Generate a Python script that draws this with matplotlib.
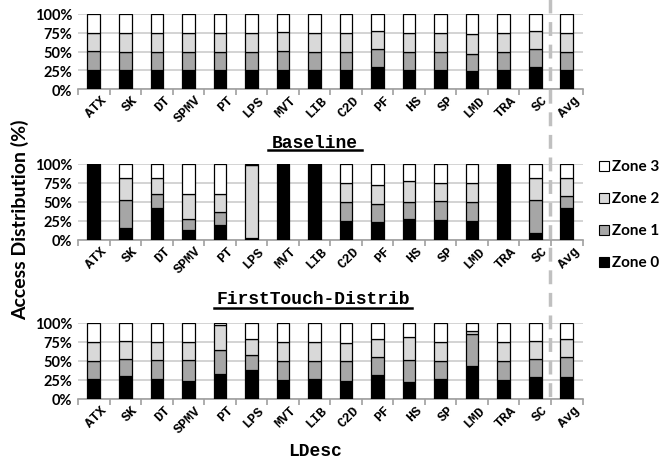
import matplotlib
matplotlib.use("Agg")
import matplotlib.pyplot as plt
from matplotlib.lines import Line2D
from matplotlib.patches import Rectangle

categories = ["ATX", "SK", "DT", "SPMV", "PT", "LPS", "MVT", "LIB", "C2D",
              "PF", "HS", "SP", "LMD", "TRA", "SC", "Avg"]
zones = ["Zone 0", "Zone 1", "Zone 2", "Zone 3"]
panel_titles = ["Baseline", "FirstTouch-Distrib", "LDesc"]

baseline_z0 = [26, 25, 25, 25, 26, 25, 25, 25, 25, 30, 25, 26, 24, 25, 30, 26]
baseline_z1 = [25, 25, 25, 25, 24, 25, 26, 25, 25, 24, 25, 24, 23, 25, 23, 24]
baseline_z2 = [24, 25, 25, 25, 25, 25, 25, 25, 25, 23, 25, 25, 26, 25, 24, 25]
baseline_z3 = [25, 25, 25, 25, 25, 25, 24, 25, 25, 23, 25, 25, 27, 25, 23, 25]

ftd_z0 = [100, 16, 42, 13, 19, 2, 100, 100, 25, 23, 27, 26, 25, 98, 9, 42]
ftd_z1 = [0, 37, 18, 14, 18, 0, 0, 0, 25, 24, 23, 25, 25, 1, 43, 16]
ftd_z2 = [0, 29, 21, 33, 24, 97, 0, 0, 25, 25, 27, 24, 25, 1, 30, 24]
ftd_z3 = [0, 18, 19, 40, 39, 1, 0, 0, 25, 28, 23, 25, 25, 0, 18, 18]

ldesc_z0 = [26, 30, 26, 24, 33, 38, 25, 26, 24, 31, 23, 26, 43, 25, 29, 29]
ldesc_z1 = [24, 23, 25, 27, 31, 20, 25, 24, 26, 24, 28, 24, 43, 25, 24, 26]
ldesc_z2 = [25, 23, 24, 24, 33, 21, 25, 25, 24, 24, 30, 25, 3, 25, 23, 24]
ldesc_z3 = [25, 24, 25, 25, 3, 21, 25, 25, 26, 21, 19, 25, 11, 25, 24, 21]

yticks = [0, 25, 50, 75, 100]
ytick_labels = ["0%", "25%", "50%", "75%", "100%"]

panels = [
    [baseline_z0, baseline_z1, baseline_z2, baseline_z3],
    [ftd_z0, ftd_z1, ftd_z2, ftd_z3],
    [ldesc_z0, ldesc_z1, ldesc_z2, ldesc_z3],
]

colors = ["#000000", "#a6a6a6", "#d9d9d9", "#ffffff"]
W, H = 668, 460
fig = plt.figure(figsize=(W / 100, H / 100), dpi=100)

ysans = ["Lato", "DejaVu Sans"]
mono = ["Liberation Mono", "DejaVu Sans Mono"]

boxes = [(15, 90), (165, 240.7), (324, 400)]
left_px, right_px = 78, 582.5

for (top, bot), data in zip(boxes, panels):
    ax = fig.add_axes([left_px / W, 1 - bot / H, (right_px - left_px) / W, (bot - top) / H])
    x = list(range(len(categories)))
    bottom = [0] * len(categories)
    for zi, vals in enumerate(data):
        ax.bar(x, vals, width=0.4, bottom=bottom, color=colors[zi],
               edgecolor="#000000", linewidth=0.9, zorder=3)
        bottom = [b + v for b, v in zip(bottom, vals)]
    ax.set_xlim(-0.5, len(categories) - 0.5)
    ax.set_ylim(0, 100)
    ax.set_yticks(yticks)
    ax.set_yticklabels(ytick_labels)
    for lab in ax.get_yticklabels():
        lab.set_fontfamily(ysans)
        lab.set_fontweight("bold")
        lab.set_fontsize(10.5)
    ax.yaxis.grid(True, color="#d0d0d0", linewidth=1.3, zorder=0)
    ax.set_axisbelow(True)
    for s in ["top", "right", "left"]:
        ax.spines[s].set_visible(False)
    ax.spines["bottom"].set_color("#a0a0a0")
    ax.spines["bottom"].set_linewidth(1.2)
    ax.tick_params(axis="y", length=0, pad=4)
    ax.set_xticks(x)
    ax.set_xticklabels([])
    ax.set_xticks([i - 0.5 for i in range(len(categories) + 1)], minor=True)
    ax.tick_params(axis="x", which="major", length=0)
    ax.tick_params(axis="x", which="minor", length=4, color="#a0a0a0", width=1.2)
    xt = ax.get_xaxis_transform()
    for i, cat in enumerate(categories):
        ax.text(i + 0.22, -0.06, cat, transform=xt, rotation=45,
                rotation_mode="anchor", ha="right", va="top",
                fontfamily=mono, fontweight="bold", fontsize=9.5, clip_on=False)

title_pos = [(315, 143), (313, 300), (315, 452)]
for (tx, ty), title in zip(title_pos, panel_titles):
    fig.text(tx / W, 1 - ty / H, title, ha="center", va="center",
             fontfamily=mono, fontweight="bold", fontsize=13)
underlines = [(268, 362, 151), (214, 412, 308.5)]
for x0, x1, uy in underlines:
    fig.add_artist(Line2D([x0 / W, x1 / W], [1 - uy / H, 1 - uy / H],
                          color="#000000", linewidth=1.8))

fig.text(20 / W, 1 - 220 / H, "Access Distribution (%)", rotation=90,
         ha="center", va="center", fontfamily=ysans, fontweight="bold", fontsize=14)

fig.add_artist(Line2D([550 / W, 550 / W], [1.0, 1 - 406 / H], color="#c0c0c0",
                      linewidth=2.5, linestyle=(0, (4, 2.5))))

leg_y = [263, 231, 199, 167]
for zi, ly in enumerate(leg_y):
    fig.add_artist(Rectangle((599 / W, 1 - (ly + 5) / H), 10 / W, 10 / H,
                             facecolor=colors[zi], edgecolor="#000000",
                             linewidth=0.8, transform=fig.transFigure))
    fig.text(612 / W, 1 - ly / H, zones[zi], ha="left", va="center",
             fontfamily=ysans, fontweight="bold", fontsize=11)

fig.savefig("out.png", dpi=100)
